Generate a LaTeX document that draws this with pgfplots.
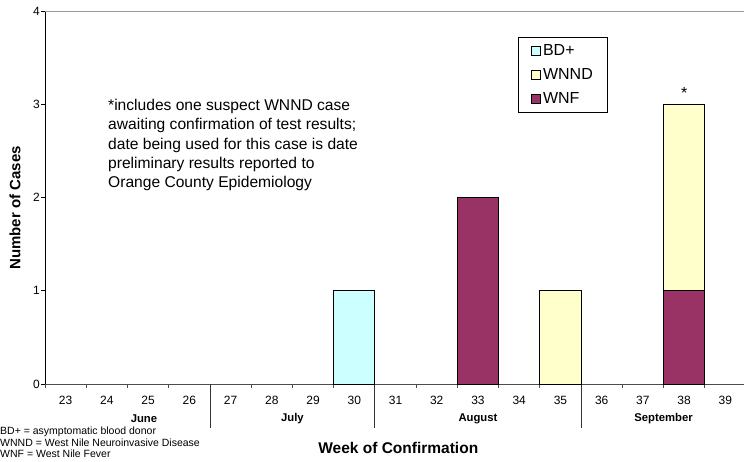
\documentclass[border=0pt]{standalone}
\usepackage{fontspec}
\setmainfont{Liberation Sans}
\usepackage{pgfplots}
\pgfplotsset{compat=1.18}
\definecolor{wnf}{HTML}{993366}
\definecolor{wnnd}{HTML}{FFFFCC}
\definecolor{bdp}{HTML}{CCFFFF}
\begin{document}
\begin{tikzpicture}
\useasboundingbox (0,0) rectangle (744pt,461pt);
\begin{axis}[
  at={(45pt,77pt)}, anchor=south west, scale only axis,
  width=701pt, height=373pt,
  xmin=-0.5, xmax=16.5, ymin=0, ymax=4,
  clip=false,
  axis x line=bottom, axis y line=left,
  x axis line style={-, black!70, line width=0.9pt},
  y axis line style={-, black, line width=0.9pt},
  ybar stacked, bar width=1,
  legend image code/.code={\draw[#1, draw=black, line width=0.6pt] (0pt,-4.5pt) rectangle (9pt,4.5pt);},
  xtick={-0.5,0.5,...,16.5},
  xticklabels={},
  extra x ticks={0,...,16},
  extra x tick labels={23,24,25,26,27,28,29,30,31,32,33,34,35,36,37,38,39},
  extra x tick style={major tick length=0pt, xticklabel style={font=\fontsize{12}{14}\selectfont, anchor=base, yshift=-20pt, inner sep=0pt}},
  ytick={0,1,2,3,4},
  tick align=outside,
  x tick style={black!70, line width=0.8pt},
  y tick style={black, line width=0.8pt},
  major tick length=4pt,
  /pgf/number format/assume math mode=true,
  yticklabel style={font=\fontsize{12}{14}\selectfont, anchor=east, inner sep=0pt, xshift=-1pt},
  xlabel={Week of Confirmation},
  ylabel={Number of Cases},
  xlabel style={at={(axis description cs:0.504,-0.1716)}, anchor=center, font=\bfseries\fontsize{15.5}{18}\selectfont, inner sep=0pt},
  ylabel style={at={(axis description cs:-0.0428,0.472)}, anchor=center, font=\bfseries\fontsize{15}{18}\selectfont, inner sep=0pt},
  legend style={at={(axis description cs:0.6748,0.930)}, anchor=north west, draw=black, fill=white,
    font=\fontsize{16}{18}\selectfont, inner xsep=13pt, inner ysep=5.2pt, row sep=7.3pt, line width=0.8pt},
  legend cell align=left,
  reverse legend,
]
\addplot[fill=wnf, draw=black, line width=0.8pt] coordinates {(7,0) (10,2) (12,0) (15,1)};
\addlegendentry{WNF}
\addplot[fill=wnnd, draw=black, line width=0.8pt] coordinates {(7,0) (10,0) (12,1) (15,2)};
\addlegendentry{WNND}
\addplot[fill=bdp, draw=black, line width=0.8pt] coordinates {(7,1) (10,0) (12,0) (15,0)};
\addlegendentry{BD+}
\draw[black!40, line width=0.9pt] (rel axis cs:0,1) -- (rel axis cs:1,1);
\draw[black!80, line width=0.8pt] (axis cs:3.5,0) -- ([yshift=-44pt]axis cs:3.5,0);
\draw[black!80, line width=0.8pt] (axis cs:7.5,0) -- ([yshift=-44pt]axis cs:7.5,0);
\draw[black!80, line width=0.8pt] (axis cs:12.5,0) -- ([yshift=-44pt]axis cs:12.5,0);
\node[inner sep=0pt, font=\bfseries\fontsize{11.3}{13}\selectfont] at ([yshift=-35pt]axis cs:1.9,0) {June};
\node[inner sep=0pt, font=\bfseries\fontsize{11.3}{13}\selectfont] at ([yshift=-35pt]axis cs:5.5,0) {July};
\node[inner sep=0pt, font=\bfseries\fontsize{11.3}{13}\selectfont] at ([yshift=-35pt]axis cs:10,0) {August};
\node[inner sep=0pt, font=\bfseries\fontsize{11.3}{13}\selectfont] at ([yshift=-35pt]axis cs:14.5,0) {September};
\node[anchor=base, font=\fontsize{16}{18}\selectfont, inner sep=0pt] at ([yshift=6pt]axis cs:15,3) {*};
\end{axis}
\node[anchor=north west, align=left, inner sep=0pt, font=\fontsize{15.6}{19.3}\selectfont] at (108pt,362pt)
  {*includes one suspect WNND case\\awaiting confirmation of test results;\\date being used for this case is date\\preliminary results reported to\\Orange County Epidemiology};
\node[anchor=base west, inner sep=0pt, font=\fontsize{10.5}{12}\selectfont] at (0pt,26.5pt) {BD+ = asymptomatic blood donor};
\node[anchor=base west, inner sep=0pt, font=\fontsize{10.5}{12}\selectfont] at (0pt,15pt) {WNND = West Nile Neuroinvasive Disease};
\node[anchor=base west, inner sep=0pt, font=\fontsize{10.5}{12}\selectfont] at (0pt,3.5pt) {WNF = West Nile Fever};
\end{tikzpicture}
\end{document}
